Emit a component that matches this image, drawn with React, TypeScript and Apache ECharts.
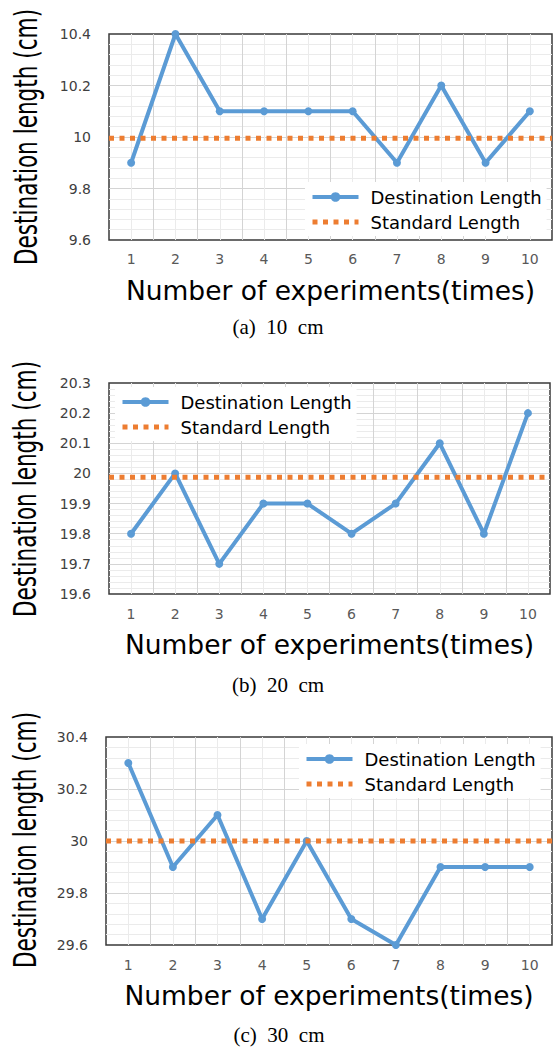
import React, { useEffect, useRef } from 'react';
import * as echarts from 'echarts';

// ---- data ----
const categories = ['1', '2', '3', '4', '5', '6', '7', '8', '9', '10'];
const destination10 = [9.9, 10.4, 10.1, 10.1, 10.1, 10.1, 9.9, 10.2, 9.9, 10.1];
const destination20 = [19.8, 20.0, 19.7, 19.9, 19.9, 19.8, 19.9, 20.1, 19.8, 20.2];
const destination30 = [30.3, 29.9, 30.1, 29.7, 30.0, 29.7, 29.6, 29.9, 29.9, 29.9];
const standardValues = [9.995, 19.987, 30];
const yMins = [9.6, 19.6, 29.6];
const yMaxs = [10.4, 20.3, 30.4];
const yIntervals = [0.2, 0.1, 0.2];
const captions = ['(a)  10  cm', '(b)  20  cm', '(c)  30  cm'];
const seriesNames = ['Destination Length', 'Standard Length'];
const xAxisTitle = 'Number of experiments(times)';
const yAxisTitle = 'Destination length (cm)';

const destinations = [destination10, destination20, destination30];

// ---- layout ----
const grids = [
  { left: 109, top: 34, width: 443, height: 206 },
  { left: 109, top: 383, width: 441, height: 211 },
  { left: 106, top: 737, width: 446, height: 208 },
];
const legendPos = [
  { left: 305, top: 182 },
  { left: 115, top: 387 },
  { left: 299, top: 744 },
];
const captionPos = [
  { x: 278, y: 327 },
  { x: 278, y: 685 },
  { x: 279, y: 1035 },
];
const yTitlePos = [
  { x: 26, y: 137 },
  { x: 25, y: 489 },
  { x: 25, y: 840 },
];
const xLabelMargins = [12, 13, 13];

const BLUE = '#5B9BD5';
const ORANGE = '#ED7D31';
const SANS = "'DejaVu Sans', sans-serif";

export default function App() {
  const ref = useRef<HTMLDivElement>(null);

  useEffect(() => {
    if (!ref.current) return;
    const chart = echarts.init(ref.current, undefined, { renderer: 'svg' });

    const grid: any[] = [];
    const xAxis: any[] = [];
    const yAxis: any[] = [];
    const series: any[] = [];
    const legend: any[] = [];
    const graphic: any[] = [];

    for (let i = 0; i < 3; i++) {
      grid.push({
        ...grids[i],
        show: true,
        borderColor: '#3a3a3a',
        borderWidth: 1.5,
        backgroundColor: 'transparent',
        containLabel: false,
      });
      xAxis.push({
        type: 'category',
        gridIndex: i,
        data: categories,
        boundaryGap: true,
        axisLine: { show: false },
        axisTick: { show: false },
        splitLine: { show: false },
        axisLabel: {
          color: '#595959',
          fontSize: 14,
          fontFamily: SANS,
          margin: xLabelMargins[i],
        },
        name: xAxisTitle,
        nameLocation: 'middle',
        nameGap: 37,
        nameTextStyle: { color: '#000', fontSize: 26.5, fontFamily: SANS },
      });
      xAxis.push({
        type: 'value',
        gridIndex: i,
        min: 0,
        max: 10,
        interval: 1,
        axisLine: { show: false },
        axisTick: { show: false },
        axisLabel: { show: false },
        splitLine: {
          show: true,
          showMinLine: false,
          showMaxLine: false,
          lineStyle: { color: '#d4d4d4', width: 1 },
        },
        minorTick: { show: false, splitNumber: 2 },
        minorSplitLine: { show: true, lineStyle: { color: '#ebebeb', width: 1 } },
      });
      yAxis.push({
        type: 'value',
        gridIndex: i,
        min: yMins[i],
        max: yMaxs[i],
        interval: yIntervals[i],
        axisLine: { show: false },
        axisTick: { show: false },
        axisLabel: {
          color: '#404040',
          fontSize: 14,
          fontFamily: SANS,
          margin: 18,
        },
        splitLine: {
          show: true,
          showMinLine: false,
          showMaxLine: false,
          lineStyle: { color: '#d4d4d4', width: 1 },
        },
        minorTick: { show: false, splitNumber: 5 },
        minorSplitLine: { show: true, lineStyle: { color: '#ebebeb', width: 1 } },
      });
      series.push({
        type: 'line',
        name: seriesNames[0],
        xAxisIndex: i * 2,
        yAxisIndex: i,
        data: destinations[i],
        symbol: 'circle',
        symbolSize: 8,
        color: BLUE,
        lineStyle: { color: BLUE, width: 4 },
        itemStyle: { color: BLUE },
        z: 3,
      });
      series.push({
        type: 'line',
        name: seriesNames[1],
        xAxisIndex: i * 2 + 1,
        yAxisIndex: i,
        data: [
          [0, standardValues[i]],
          [10, standardValues[i]],
        ],
        symbol: 'none',
        color: ORANGE,
        lineStyle: { color: ORANGE, width: 5, type: [5, 5.5], cap: 'butt' },
        z: 4,
      });
      legend.push({
        left: legendPos[i].left,
        top: legendPos[i].top,
        orient: 'vertical',
        backgroundColor: '#fff',
        padding: [5, 5, 4, 5],
        itemWidth: 46,
        itemHeight: 12,
        itemGap: 5,
        selectedMode: false,
        lineStyle: { width: 4 },
        textStyle: {
          color: '#000',
          fontSize: 18,
          fontFamily: SANS,
          lineHeight: 20,
          padding: [0, 0, 0, 7],
        },
        data: [
          { name: seriesNames[0] },
          {
            name: seriesNames[1],
            itemStyle: { opacity: 0 },
            lineStyle: { width: 5, type: [5, 5.5], cap: 'butt' },
          },
        ],
      });
      graphic.push({
        type: 'text',
        x: captionPos[i].x,
        y: captionPos[i].y,
        style: {
          text: captions[i],
          fill: '#000',
          font: "21px 'Liberation Serif', 'Times New Roman', serif",
          align: 'center',
          verticalAlign: 'middle',
        },
      });
      graphic.push({
        type: 'text',
        x: yTitlePos[i].x,
        y: yTitlePos[i].y,
        rotation: Math.PI / 2,
        scaleY: 1.35,
        style: {
          text: yAxisTitle,
          fill: '#000',
          font: "24px 'DejaVu Sans Condensed', 'DejaVu Sans', sans-serif",
          align: 'center',
          verticalAlign: 'middle',
        },
      });
    }

    chart.setOption({
      animation: false,
      backgroundColor: '#fff',
      grid,
      xAxis,
      yAxis,
      series,
      legend,
      graphic,
    });

    return () => chart.dispose();
  }, []);

  return (
    <div
      ref={ref}
      style={{ position: 'absolute', left: 0, top: 0, width: 557, height: 1047 }}
    />
  );
}
